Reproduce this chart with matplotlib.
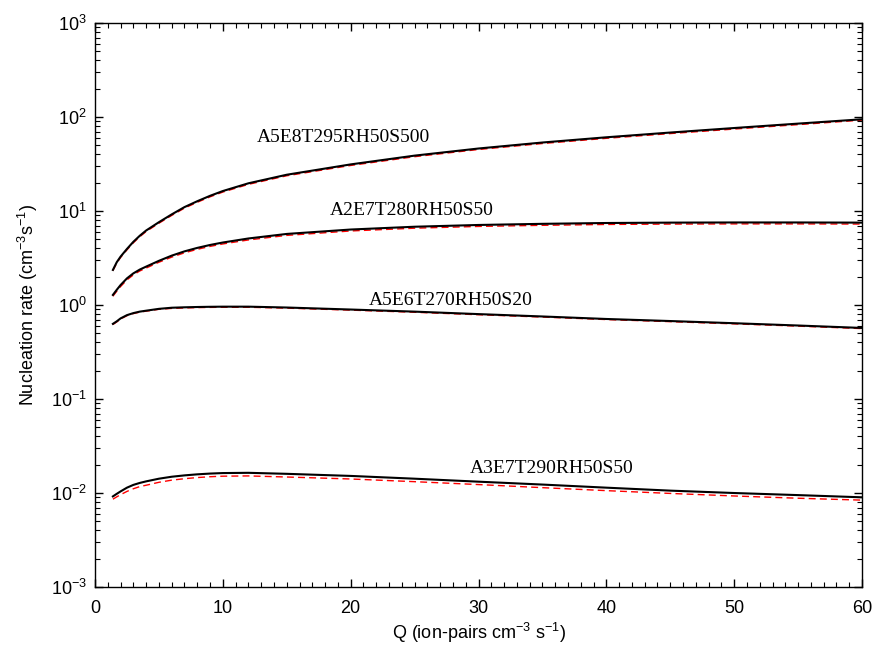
import matplotlib
matplotlib.use("Agg")
import matplotlib.pyplot as plt
from matplotlib.ticker import MultipleLocator, LogLocator, NullFormatter

plt.rcParams["font.family"] = ["Liberation Sans", "DejaVu Sans"]
plt.rcParams["mathtext.fontset"] = "custom"
plt.rcParams["mathtext.rm"] = "Liberation Sans"
plt.rcParams["mathtext.it"] = "Liberation Sans:italic"
plt.rcParams["mathtext.default"] = "regular"

# Ionisation rate Q (ion-pairs cm^-3 s^-1)
q = [1.4, 1.7, 2, 2.5, 3, 3.5, 4, 5, 6, 7, 8, 9, 10, 12, 15, 20, 25, 30, 35, 40, 45, 50, 55, 60]

# Nucleation rates (cm^-3 s^-1): full model (solid) and parameterisation (dashed)
case_labels = ["A5E8T295RH50S500", "A2E7T280RH50S50", "A5E6T270RH50S20", "A3E7T290RH50S50"]

j1_model = [2.36, 2.85, 3.27, 3.95, 4.7, 5.45, 6.2, 7.6, 9.2, 11.0, 12.7, 14.5, 16.3, 19.7,
            24.3, 31.3, 38.8, 46.2, 53.5, 60.8, 68.3, 76.3, 85.0, 94.5]
j1_param = [2.32, 2.79, 3.2, 3.86, 4.59, 5.32, 6.05, 7.41, 8.97, 10.73, 12.38, 14.14, 15.9, 19.2,
            23.7, 30.5, 37.8, 45.1, 52.2, 59.3, 66.6, 74.4, 82.9, 92.6]

j2_model = [1.28, 1.45, 1.63, 1.92, 2.17, 2.38, 2.56, 2.95, 3.35, 3.72, 4.05, 4.35, 4.62, 5.1,
            5.7, 6.35, 6.8, 7.1, 7.3, 7.45, 7.52, 7.55, 7.55, 7.52]
j2_param = [1.24, 1.40, 1.57, 1.85, 2.09, 2.30, 2.47, 2.85, 3.23, 3.59, 3.91, 4.2, 4.46, 4.92,
            5.5, 6.13, 6.56, 6.85, 7.04, 7.19, 7.26, 7.29, 7.29, 7.26]

j3_model = [0.63, 0.67, 0.72, 0.78, 0.82, 0.85, 0.87, 0.91, 0.935, 0.945, 0.952, 0.957, 0.96, 0.96,
            0.94, 0.895, 0.85, 0.80, 0.755, 0.71, 0.675, 0.64, 0.605, 0.57]
j3_param = [0.62, 0.66, 0.71, 0.77, 0.81, 0.84, 0.86, 0.90, 0.92, 0.93, 0.938, 0.943, 0.946, 0.946,
            0.926, 0.882, 0.837, 0.788, 0.744, 0.70, 0.665, 0.63, 0.596, 0.561]

j4_model = [0.0092, 0.0098, 0.0104, 0.0114, 0.0122, 0.0128, 0.0133, 0.0142, 0.0149, 0.0154,
            0.0158, 0.0161, 0.0163, 0.0164, 0.0160, 0.0152, 0.0142, 0.0132, 0.0123, 0.0114,
            0.0106, 0.0100, 0.0095, 0.0090]
j4_param = [0.0086, 0.0091, 0.0096, 0.0104, 0.0111, 0.0117, 0.0121, 0.0130, 0.0137, 0.0142,
            0.0146, 0.0149, 0.0151, 0.0152, 0.0148, 0.0141, 0.0132, 0.0123, 0.0114, 0.0106,
            0.0099, 0.0093, 0.0088, 0.0084]

# Label anchor points (Q, J) for each case
label_q = [19.4, 24.8, 27.8, 35.7]
label_j = [59.8, 10.0, 1.13, 0.0183]

fig = plt.figure(figsize=(8.78, 6.47), dpi=100)
ax = fig.add_axes([0.1082, 0.0927, 0.8736, 0.8718])

for model, param in [(j1_model, j1_param), (j2_model, j2_param),
                     (j3_model, j3_param), (j4_model, j4_param)]:
    ax.plot(q, param, color="red", lw=1.0, ls=(0, (5, 3)), zorder=2)
    ax.plot(q, model, color="black", lw=1.5, zorder=3, solid_joinstyle="round")

for text, xq, yj in zip(case_labels, label_q, label_j):
    ax.text(xq, yj, text, ha="center", va="center", fontsize=14,
            family=["Liberation Serif", "DejaVu Serif"])

ax.set_yscale("log")
ax.set_xlim(0, 60)
ax.set_ylim(1e-3, 1e3)

ax.xaxis.set_major_locator(MultipleLocator(10))
ax.xaxis.set_minor_locator(MultipleLocator(1))
ax.yaxis.set_major_locator(LogLocator(base=10, numticks=10))
ax.yaxis.set_minor_locator(LogLocator(base=10, subs=range(2, 10), numticks=20))
ax.yaxis.set_minor_formatter(NullFormatter())

ax.tick_params(which="both", direction="in", top=True, right=True, labelsize=13, colors="black")
ax.tick_params(which="major", length=6, width=1.0)
ax.tick_params(which="minor", length=3.5, width=0.8)
ax.tick_params(axis="x", which="major", pad=9)
ax.tick_params(axis="y", which="major", pad=6)
for s in ax.spines.values():
    s.set_linewidth(1.0)

ax.set_xlabel("Q (ion-pairs cm$^{-3}$ s$^{-1}$)", fontsize=13, labelpad=3)
ax.set_ylabel("Nucleation rate (cm$^{-3}$s$^{-1}$)", fontsize=13, labelpad=8)

fig.savefig("out.png", dpi=100)
